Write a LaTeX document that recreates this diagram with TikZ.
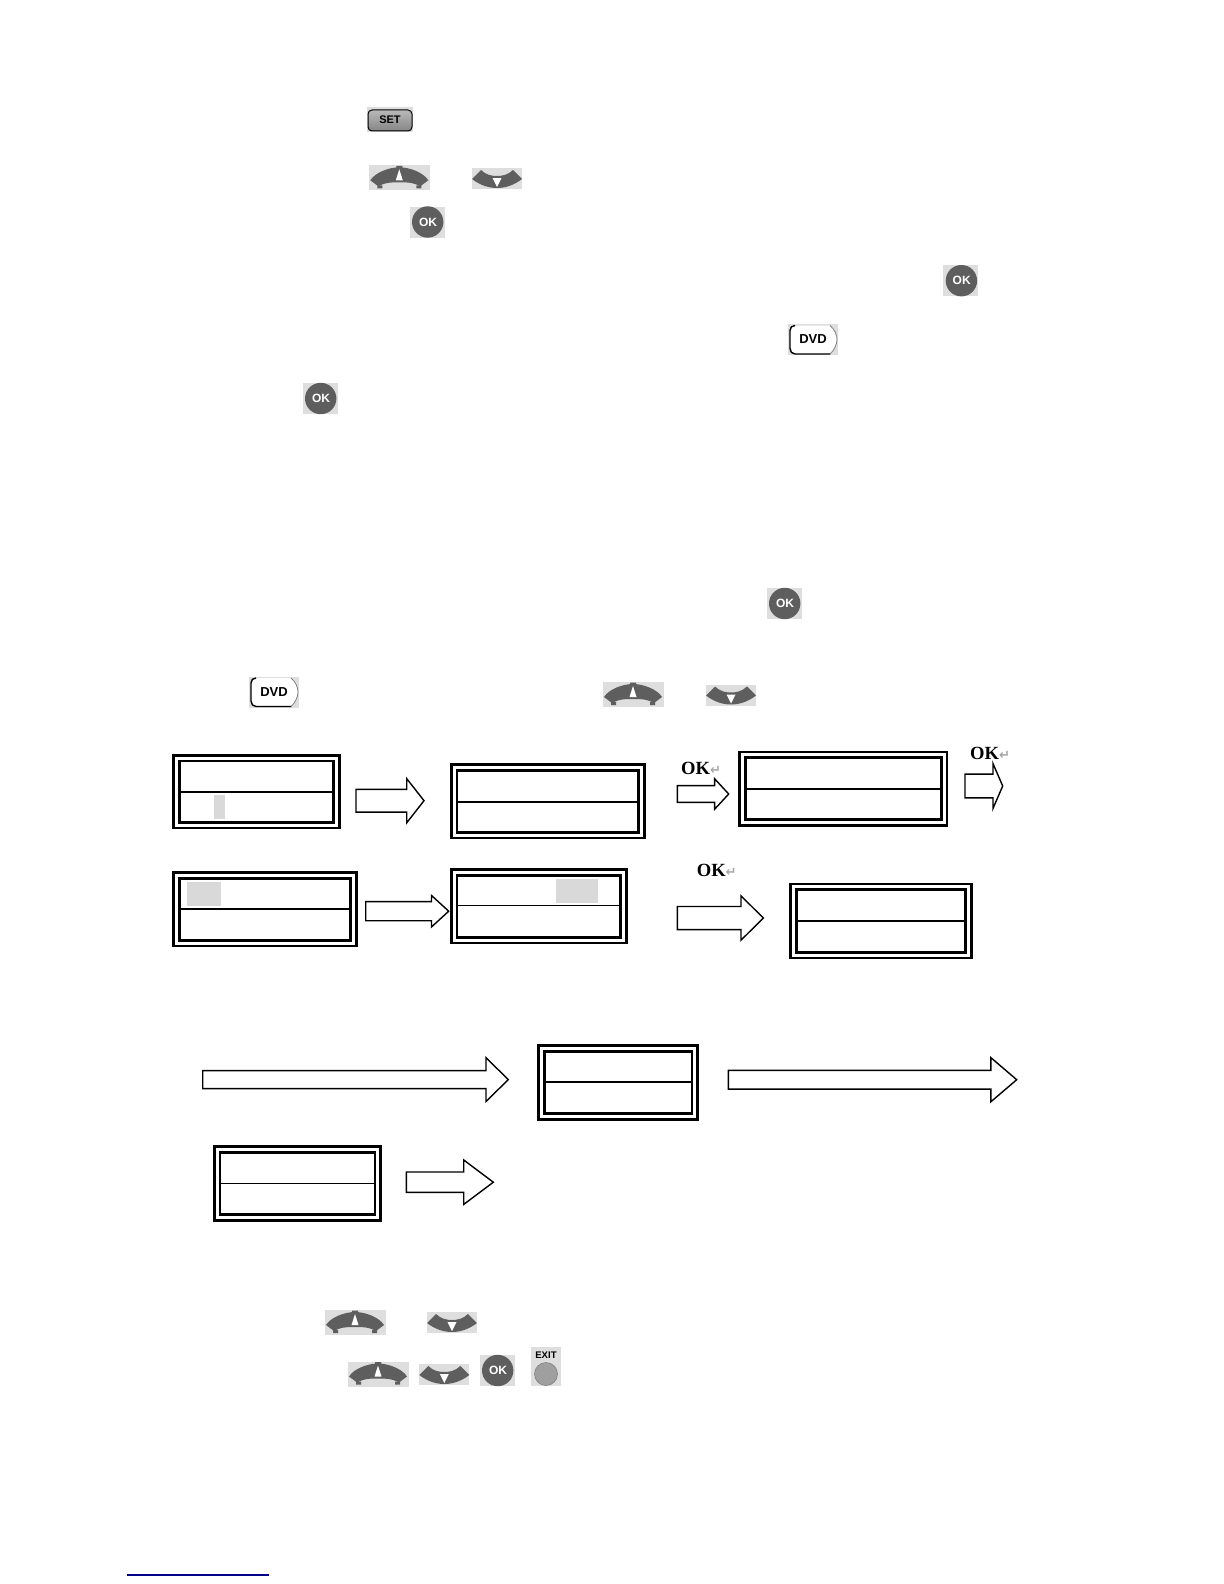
\documentclass[tikz,border=0pt]{standalone}
\usepackage{fontspec}
\setmainfont{Liberation Sans}
\newfontfamily\okserif{Liberation Serif}
\newfontfamily\symfont{DejaVu Sans}
\usetikzlibrary{shapes.arrows,calc}
\definecolor{btnbg}{HTML}{DEDEDE}
\definecolor{btndark}{HTML}{5E5E5E}
\definecolor{markgrey}{HTML}{D9D9D9}
\definecolor{linkblue}{HTML}{00008B}
\tikzset{
  scr_box/.style = {rectangle, draw=black, line width=1.35pt, double=white, double distance=1.5pt, inner sep=0pt, outer sep=0pt},
  scr_div/.style = {line width=0.8pt, shorten >=0.75pt, shorten <=0.75pt},
  scr_mark/.style = {rectangle, fill=markgrey, inner sep=0pt, outer sep=0pt},
  flow_arr/.style = {single arrow, draw=black, fill=white, line width=0.7pt, inner sep=0pt, outer sep=0pt, anchor=tail, single arrow head indent=0pt},
  ok_note/.style = {inner sep=0pt, font=\okserif\bfseries\fontsize{9.3}{9.3}\selectfont},
  btn_txt/.style = {inner sep=0pt, font=\bfseries\fontsize{#1}{#1}\selectfont},
  ok_btn/.pic = {
    \fill[btnbg] (-17.5,-15.5) rectangle (17.5,15.5);
    \fill[btndark] (0.7,0) circle (15.7);
    \node[inner sep=0pt, white, font=\bfseries\fontsize{6}{6}\selectfont] (-lbl) at (1,0) {OK};
  },
  up_btn/.pic = {
    \fill[btnbg] (-30,-12) rectangle (31,13);
    \fill[btndark] (-29,3) .. controls (-24,-5) and (-10,-10) .. (0,-10) .. controls (10,-10) and (24,-5) .. (29,3)
      -- (21,9) .. controls (13,4.5) and (5,5) .. (0,5) .. controls (-5,5) and (-13,4.5) .. (-21,9) -- cycle;
    \fill[btndark] (-22,8) rectangle (-17,11) (17,8) rectangle (22,11) (-3,-11.5) rectangle (3,-9);
    \fill[white] (0,-8) -- (3.5,3) -- (-3.5,3) -- cycle;
  },
  down_btn/.pic = {
    \fill[btnbg] (-25,-11) rectangle (25,10);
    \fill[btndark] (-25,0) -- (-16,-9) .. controls (-11,-4) and (-5,-3) .. (0,-3) .. controls (5,-3) and (11,-4) .. (16,-9)
      -- (25,0) .. controls (16,7) and (7,9) .. (0,9) .. controls (-7,9) and (-16,7) .. (-25,0) -- cycle;
    \fill[white] (-4.5,-1) -- (4.5,-1) -- (0,8) -- cycle;
  },
  set_btn/.pic = {
    \fill[btnbg] (-23.3,-12.5) rectangle (23.3,12.5);
    \draw[black, line width=0.5pt, rounded corners=2pt, top color=gray!55, bottom color=gray!95] (-22,-10) rectangle (22,11);
    \node[btn_txt=5.5] (-lbl) at (0,0) {SET};
  },
  dvd_btn/.pic = {
    \fill[btnbg] (-25,-15.5) rectangle (25,15.5);
    \fill[white] (-23,-9) .. controls (-23,-12) and (-21,-14) .. (-18,-14) -- (17,-14) .. controls (22,-10) and (24,-4) .. (24,0) .. controls (24,5) and (21,11) .. (17,14.5) -- (-18,14.5) .. controls (-21,14.5) and (-23,12) .. (-23,9) -- cycle;
    \draw[gray, line width=0.4pt] (17,-14) .. controls (22,-10) and (24,-4) .. (24,0) .. controls (24,5) and (21,11) .. (17,14.5);
    \draw[black, line width=0.7pt] (-18,-14) .. controls (-21,-14) and (-23,-12) .. (-23,-9) -- (-23,9) .. controls (-23,12) and (-21,14.5) .. (-18,14.5) -- (17,14.5);
    \node[btn_txt=6.5] (-lbl) at (0,0) {DVD};
  },
  exit_btn/.pic = {
    \fill[btnbg] (-15,-19.5) rectangle (15,19.5);
    \node[btn_txt=4.8] (-lbl) at (0,-11) {EXIT};
    \fill[gray!75] (0,8) circle (11.5);
    \draw[gray, line width=0.3pt] (0,8) circle (11.5);
  }
}
% name, x1, y1, x2, y2, divider
\newcommand{\screenbox}[6]{
  \node[scr_box, minimum width={0.5pt*(#4-#2)-4.2pt}, minimum height={0.5pt*(#5-#3)-4.2pt}] (#1) at ({(#2+#4)/2},{(#3+#5)/2}) {};
  \draw[scr_div] (#1.west |- 0,#6) -- (#1.east |- 0,#6);
}
% name, tail x, y, length, head width, shaft width, head length
\newcommand{\flowarrow}[7]{
  \pgfmathsetmacro{\tipang}{2*atan((#5/2)/#7)}
  \node[flow_arr, inner ysep={0.25pt*#6}, minimum height={0.5pt*#4}, minimum width={0.5pt*#5}, single arrow head extend={0.25pt*(#5-#6)}, single arrow tip angle=\tipang] (#1) at (#2,#3) {};
}
\newcommand{\oknote}[3]{
  \node[ok_note] (#1) at (#2,#3) {OK{\symfont\fontsize{6.5}{6.5}\selectfont\textcolor{gray!70}{\symbol{"21B5}}}};
}
\begin{document}
\begin{tikzpicture}[x=0.5pt,y=-0.5pt]
	\useasboundingbox (0,0) rectangle (1224,1584);
	\fill[white] (0,0) rectangle (1224,1584);

	% buttons in the text
	\pic (set_a) at (390,120) {set_btn};
	\pic (up_a) at (399.3,177.3) {up_btn};
	\pic (down_a) at (497,179) {down_btn};
	\pic (ok_a) at (427,222) {ok_btn};
	\pic (ok_b) at (960.7,280.7) {ok_btn};
	\pic (dvd_a) at (813,339.5) {dvd_btn};
	\pic (ok_c) at (320,398.5) {ok_btn};
	\pic (ok_d) at (784,603.5) {ok_btn};
	\pic (dvd_b) at (274,692) {dvd_btn};
	\pic (up_b) at (633,694) {up_btn};
	\pic (down_b) at (731,695.5) {down_btn};

	% first row
	\node[scr_mark, minimum width=5.5pt, minimum height=11.8pt] (mark_a) at (219.5,807) {};
	\screenbox{scr_a}{172.3}{754}{340.7}{829.3}{791.7}
	\flowarrow{arr_a}{356}{800.7}{68}{42.7}{21.3}{16.7}
	\screenbox{scr_b}{450}{763.3}{645.7}{839.3}{801.7}
	\oknote{note_a}{701}{768}
	\flowarrow{arr_b}{677.3}{794}{51.4}{29}{15.3}{13.4}
	\screenbox{scr_c}{738.3}{750.7}{948.3}{826.7}{789}
	\oknote{note_b}{990}{753}
	\flowarrow{arr_c}{965}{786}{37.7}{43.4}{22.3}{9.4}

	% second row
	\node[scr_mark, minimum width=17pt, minimum height=11.8pt] (mark_b) at (204,893.8) {};
	\screenbox{scr_d}{172.3}{871.3}{357.7}{947.3}{908.7}
	\flowarrow{arr_d}{365.7}{911.2}{83}{30}{17.7}{16.4}
	\node[scr_mark, minimum width=20.8pt, minimum height=11.8pt] (mark_c) at (576.8,890.8) {};
	\screenbox{scr_e}{450}{868.3}{627.7}{944.3}{905.3}
	\oknote{note_c}{716.7}{870}
	\flowarrow{arr_e}{677.3}{918}{86}{43}{21.7}{21.6}
	\screenbox{scr_f}{789.3}{882.7}{972.7}{959.3}{921}

	% third row
	\flowarrow{arr_f}{202.7}{1079.6}{305.6}{42.4}{16.7}{21.6}
	\screenbox{scr_g}{537.3}{1044.3}{699}{1120.7}{1081.7}
	\flowarrow{arr_g}{728.3}{1079.7}{288.4}{42.7}{17.3}{25}
	\screenbox{scr_h}{213}{1145.3}{382}{1221.7}{1183.3}
	\flowarrow{arr_h}{406.3}{1182.2}{87}{43}{19}{28.6}

	% buttons below
	\pic (up_c) at (355,1322) {up_btn};
	\pic (down_c) at (452,1323) {down_btn};
	\pic (up_d) at (378,1373.5) {up_btn};
	\pic (down_d) at (444.3,1375) {down_btn};
	\pic (ok_e) at (497,1370.5) {ok_btn};
	\pic (exit_a) at (546,1366) {exit_btn};

	\coordinate (rule_l) at (127,1575);
	\coordinate (rule_r) at (268.7,1575);
	\draw[linkblue, line width=0.6pt] (rule_l) -- (rule_r);
\end{tikzpicture}
\end{document}
